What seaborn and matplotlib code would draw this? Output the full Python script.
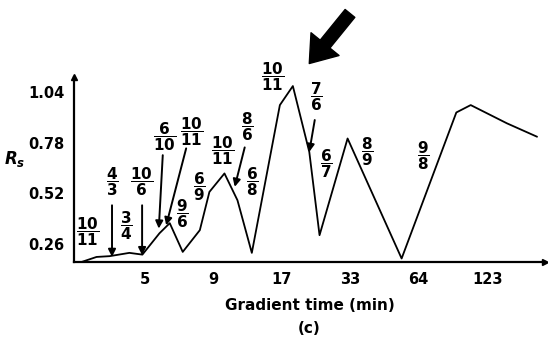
import matplotlib
matplotlib.use("Agg")
import matplotlib.pyplot as plt
import seaborn as sns
import pandas as pd

# Rs vs gradient time.
# x = position on the gradient-time axis (one step per doubling, 5 -> 1, 9 -> 2, ...)
pos = [0.07, 0.29, 0.48, 0.77, 0.96, 1.21, 1.36, 1.55, 1.80, 1.94, 2.16, 2.35,
       2.56, 2.97, 3.16, 3.40, 3.55, 3.96, 4.75, 5.55, 5.76, 6.29, 6.73]
rs = [0.165, 0.191, 0.195, 0.212, 0.203, 0.313, 0.365, 0.217, 0.329, 0.526, 0.621, 0.483,
      0.212, 0.973, 1.071, 0.732, 0.303, 0.801, 0.183, 0.935, 0.973, 0.879, 0.810]

time_ticks = [1, 2, 3, 4, 5, 6]
time_labels = ["5", "9", "17", "33", "64", "123"]
rs_ticks = [0.26, 0.52, 0.78, 1.04]

# critical peak pairs written as fractions along the curve
pairs = [("10", "11"), ("4", "3"), ("3", "4"), ("10", "6"), ("6", "10"), ("10", "11"),
         ("9", "6"), ("6", "9"), ("10", "11"), ("8", "6"), ("6", "8"), ("10", "11"),
         ("7", "6"), ("6", "7"), ("8", "9"), ("9", "8")]

# where the labels and the small arrows sit
pair_xy = [(0.16, 0.32), (0.516, 0.578), (0.72, 0.354), (0.956, 0.578), (1.283, 0.81),
           (1.674, 0.835), (1.54, 0.415), (1.796, 0.552), (2.13, 0.741), (2.495, 0.861),
           (2.56, 0.578), (2.87, 1.119), (3.507, 1.016), (3.655, 0.672), (4.25, 0.732),
           (5.07, 0.715)]
arrow_from = [(0.516, 0.457), (0.956, 0.457), (1.258, 0.715), (1.60, 0.75), (2.456, 0.755), (3.48, 0.896)]
arrow_to = [(0.516, 0.191), (0.956, 0.200), (1.20, 0.337), (1.308, 0.354), (2.31, 0.552), (3.40, 0.732)]

sns.set_style("white")
plt.rcParams["font.family"] = ["DejaVu Sans"]
plt.rcParams["font.weight"] = "bold"
plt.rcParams["text.color"] = "black"
plt.rcParams["axes.labelcolor"] = "black"
plt.rcParams["mathtext.fontset"] = "custom"
plt.rcParams["mathtext.rm"] = "DejaVu Sans:bold"
plt.rcParams["mathtext.bf"] = "DejaVu Sans:bold"
plt.rcParams["mathtext.it"] = "DejaVu Sans:bold:italic"

df = pd.DataFrame({"pos": pos, "rs": rs})

fig = plt.figure(figsize=(5.48, 3.45), dpi=100)
ax = fig.add_axes([0.135, 0.2406, 0.86, 0.537])
sns.lineplot(data=df, x="pos", y="rs", sort=False, color="black", linewidth=1.3, ax=ax)

ax.set_xlim(-0.04, 6.85)
ax.set_ylim(0.165, 1.119)
ax.set_xticks(time_ticks)
ax.set_xticklabels(time_labels)
ax.set_yticks(rs_ticks)
ax.set_yticklabels([f"{v:.2f}" for v in rs_ticks])
ax.tick_params(direction="in", length=3, width=1.2, labelsize=10.5, pad=7, colors="black")
for s in ["top", "right"]:
    ax.spines[s].set_visible(False)
for s in ["left", "bottom"]:
    ax.spines[s].set_linewidth(1.6)
    ax.spines[s].set_color("black")
# axis arrow heads
ax.plot(1, 0, ">k", markersize=5, transform=ax.transAxes, clip_on=False)
ax.plot(0, 1, "^k", markersize=5, transform=ax.transAxes, clip_on=False)

ax.set_xlabel("Gradient time (min)", fontsize=11, fontweight="bold", labelpad=8)
ax.set_ylabel(r"$R_s$", fontsize=12, rotation=0, labelpad=0)
ax.yaxis.set_label_coords(-0.125, 0.5)
fig.text(0.565, 0.035, "(c)", fontsize=11, fontweight="bold", ha="center")

for (num, den), (x, y) in zip(pairs, pair_xy):
    ax.text(x, y, r"$\dfrac{\mathbf{%s}}{\mathbf{%s}}$" % (num, den), fontsize=11,
            ha="center", va="center", clip_on=False)

for tail, head in zip(arrow_from, arrow_to):
    ax.annotate("", xy=head, xytext=tail,
                arrowprops=dict(arrowstyle="-|>", color="black", lw=1.4, mutation_scale=11,
                                shrinkA=0, shrinkB=0))

# the big arrow pointing at the selected optimum
ax.annotate("", xy=(3.40, 1.187), xytext=(3.995, 1.445), annotation_clip=False,
            arrowprops=dict(facecolor="black", edgecolor="black", width=9, headwidth=26,
                            headlength=18, shrink=0))

fig.savefig("out.png", dpi=100)
